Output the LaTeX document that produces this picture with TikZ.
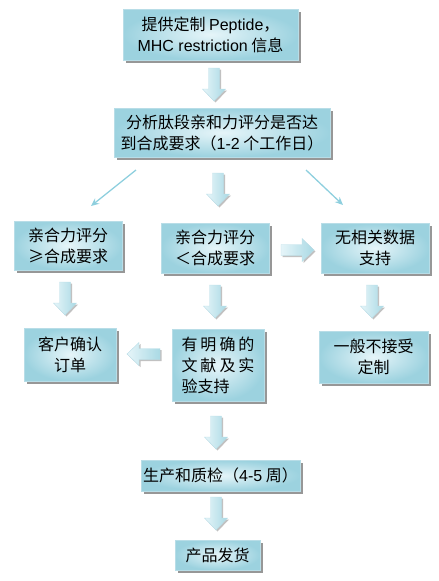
\documentclass[tikz,border=0pt]{standalone}
\usepackage{fontspec}
\setmainfont{Noto Sans CJK SC}
\newfontfamily\lat{Liberation Sans}
\usetikzlibrary{shadows,arrows.meta}
\definecolor{boxdark}{HTML}{9CD2DF}
\definecolor{boxlight}{HTML}{E6F5F9}
\definecolor{boxedge}{HTML}{B8DDE7}
\definecolor{linec}{HTML}{8ECFDE}
\definecolor{arrdark}{HTML}{A9D9E4}
\tikzset{
  x=1pt, y=1pt,
  bx/.style={rectangle, draw=boxedge, line width=0.6pt, inner color=boxlight, outer color=boxdark,
    drop shadow={shadow xshift=2.5pt, shadow yshift=-2.5pt, fill=black!45, opacity=0.9},
    inner sep=0pt, align=center, font=\fontsize{16}{21}\selectfont},
  conn/.style={draw=linec, line width=1.3pt, -{Stealth[length=8pt,width=7pt]}},
  barrow/.pic={
    \path[draw=boxedge, line width=0.4pt, left color=boxlight, right color=arrdark,
      drop shadow={shadow xshift=1.5pt, shadow yshift=-1.5pt, fill=black!30, opacity=0.8}]
      (0,5.5) -- (21,5.5) -- (21,11.5) -- (33,0) -- (21,-11.5) -- (21,-5.5) -- (0,-5.5) -- cycle;
  }
}
\begin{document}
\begin{tikzpicture}
\useasboundingbox (0,0) rectangle (439,-581);
% boxes
\node[bx, minimum width=175pt, minimum height=51pt] (b1) at (210.5,-34.5)
  {提供定制 {\lat Peptide}，\\{\lat MHC restriction} 信息};
\node[bx, minimum width=216pt, minimum height=49pt] (b2) at (222,-132.5)
  {分析肽段亲和力评分是否达\\到合成要求（{\lat 1-2} 个工作日）};
\node[bx, minimum width=108pt, minimum height=49pt] (b3) at (68,-245.5)
  {亲合力评分\\≥合成要求};
\node[bx, minimum width=108pt, minimum height=50pt] (b4) at (215,-248)
  {亲合力评分\\＜合成要求};
\node[bx, minimum width=108pt, minimum height=50pt] (b5) at (375,-248)
  {无相关数据\\支持};
\node[bx, minimum width=92pt, minimum height=53pt] (b6) at (70,-354.5)
  {客户确认\\订单};
\node[bx, minimum width=92pt, minimum height=72pt, align=left] (b7) at (218,-365)
  {\makebox[73pt][s]{有\hfil 明\hfil 确\hfil 的}\\\makebox[73pt][s]{文\hfil 献\hfil 及\hfil 实}\\验支持};
\node[bx, minimum width=109pt, minimum height=52pt] (b8) at (373.5,-357)
  {一般不接受\\定制};
\node[bx, minimum width=159pt, minimum height=31pt] (b9) at (220.5,-475.5)
  {生产和质检（{\lat 4-5} 周）};
\node[bx, minimum width=85pt, minimum height=30pt] (b10) at (217.5,-555)
  {产品发货};
% block arrows
\pic[rotate=-90] (a1) at (214,-68) {barrow};
\pic[rotate=-90] (a2) at (218,-173) {barrow};
\pic (a3) at (281,-250) {barrow};
\pic[rotate=-90] (a4) at (65,-282) {barrow};
\pic[rotate=-90] (a5) at (215,-285) {barrow};
\pic[rotate=-90] (a6) at (372,-285) {barrow};
\pic[rotate=180] (a7) at (160,-354) {barrow};
\pic[rotate=-90] (a8) at (216,-416) {barrow};
\pic[rotate=-90] (a9) at (216,-497) {barrow};
% diagonal connectors
\coordinate (dl1) at (136,-170);
\coordinate (dl2) at (91,-206);
\coordinate (dr1) at (306,-170);
\coordinate (dr2) at (343,-205);
\draw[conn] (dl1) -- (dl2);
\draw[conn] (dr1) -- (dr2);
\end{tikzpicture}
\end{document}
